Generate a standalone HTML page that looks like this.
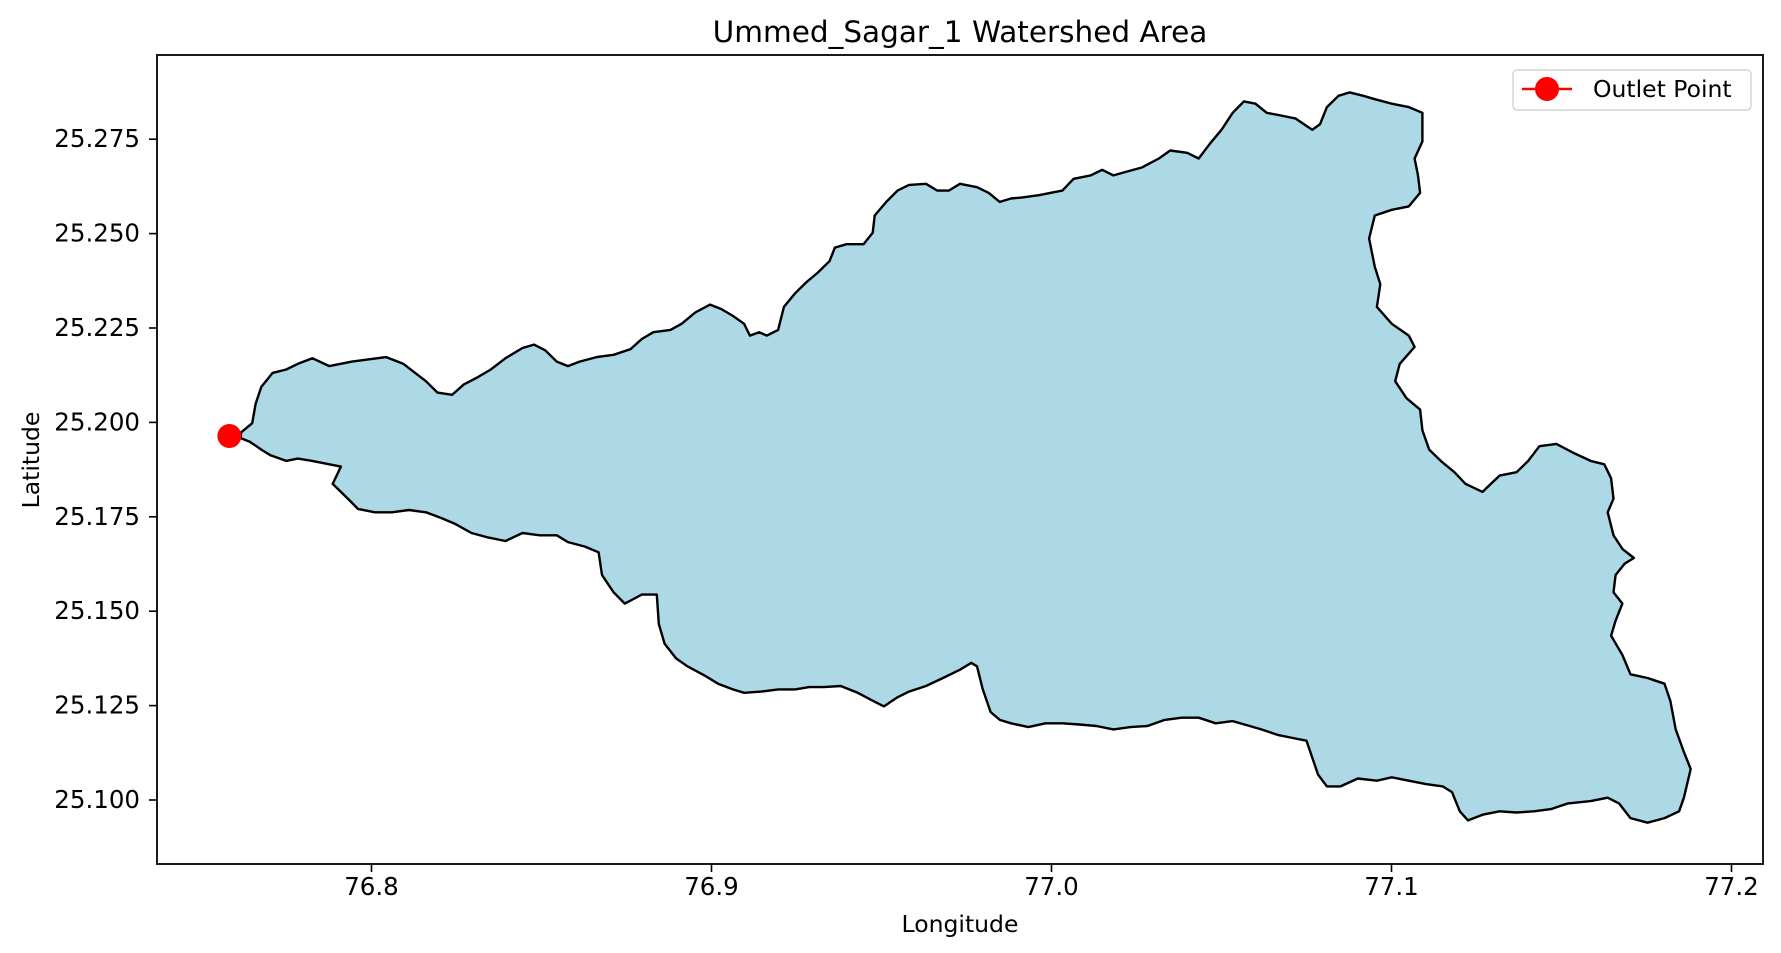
<!DOCTYPE html>
<html><head><meta charset="utf-8"><style>
html,body{margin:0;padding:0;background:#fff;}
svg{display:block;font-family:"DejaVu Sans","Liberation Sans",sans-serif;}
</style></head><body>
<svg id="chart" width="1781" height="953" viewBox="0 0 1781 953">
<text x="960" y="42" font-size="29.5" text-anchor="middle">Ummed_Sagar_1 Watershed Area</text>
<g id="plot"></g>
<rect x="157" y="55" width="1606" height="809" fill="none" stroke="#000" stroke-width="1.8"/>
<g id="xticks"></g><g id="yticks"></g>
<text x="960" y="932" font-size="23.5" text-anchor="middle">Longitude</text>
<text x="39" y="460" font-size="23.5" text-anchor="middle" transform="rotate(-90 39 460)">Latitude</text>
<g>
<rect x="1513" y="70" width="238" height="40" rx="4" fill="#fff" stroke="#ccc" stroke-width="1.2"/>
<line x1="1522" y1="89" x2="1572" y2="89" stroke="#f00" stroke-width="2.5"/>
<circle cx="1547" cy="89" r="12" fill="#f00"/>
<text x="1593" y="97" font-size="23.5">Outlet Point</text>
</g>
</svg>
<script>
const lons=[76.7616,76.7649,76.7659,76.7676,76.7709,76.7749,76.7783,76.7826,76.7876,76.7943,76.7993,76.8043,76.8094,76.8137,76.8160,76.8194,76.8237,76.8271,76.8311,76.8351,76.8394,76.8444,76.8478,76.8511,76.8545,76.8578,76.8612,76.8662,76.8712,76.8762,76.8795,76.8829,76.8879,76.8912,76.8952,76.8996,76.9029,76.9063,76.9096,76.9113,76.9140,76.9163,76.9196,76.9213,76.9246,76.9280,76.9313,76.9347,76.9363,76.9397,76.9447,76.9474,76.9480,76.9514,76.9547,76.9581,76.9631,76.9664,76.9698,76.9731,76.9781,76.9815,76.9848,76.9881,76.9915,76.9965,76.9998,77.0032,77.0065,77.0115,77.0149,77.0182,77.0216,77.0266,77.0316,77.0349,77.0399,77.0433,77.0466,77.0500,77.0533,77.0566,77.0600,77.0633,77.0667,77.0717,77.0767,77.0790,77.0810,77.0844,77.0877,77.0917,77.0951,77.1001,77.1051,77.1091,77.1091,77.1068,77.1078,77.1084,77.1051,77.1001,77.0951,77.0934,77.0951,77.0967,77.0957,77.1001,77.1051,77.1068,77.1024,77.1011,77.1044,77.1084,77.1091,77.1111,77.1145,77.1185,77.1218,77.1268,77.1292,77.1318,77.1368,77.1402,77.1435,77.1485,77.1536,77.1586,77.1626,77.1646,77.1653,77.1636,77.1653,77.1679,77.1713,77.1686,77.1659,77.1653,77.1679,77.1659,77.1646,77.1679,77.1703,77.1753,77.1803,77.1820,77.1836,77.1860,77.1880,77.1860,77.1846,77.1803,77.1753,77.1703,77.1669,77.1636,77.1586,77.1519,77.1469,77.1419,77.1368,77.1318,77.1268,77.1225,77.1201,77.1178,77.1151,77.1101,77.1051,77.1001,77.0957,77.0901,77.0850,77.0810,77.0784,77.0767,77.0750,77.0717,77.0667,77.0617,77.0583,77.0533,77.0483,77.0433,77.0383,77.0333,77.0282,77.0232,77.0182,77.0132,77.0082,77.0032,76.9982,76.9932,76.9881,76.9848,76.9821,76.9798,76.9781,76.9764,76.9731,76.9681,76.9631,76.9581,76.9547,76.9507,76.9474,76.9430,76.9380,76.9330,76.9287,76.9246,76.9196,76.9146,76.9096,76.9063,76.9019,76.8979,76.8929,76.8896,76.8862,76.8845,76.8839,76.8795,76.8745,76.8712,76.8678,76.8668,76.8628,76.8578,76.8545,76.8495,76.8444,76.8394,76.8344,76.8294,76.8244,76.8204,76.8160,76.8110,76.8060,76.8010,76.7960,76.7937,76.7910,76.7886,76.7910,76.7876,76.7826,76.7783,76.7749,76.7703,76.7676,76.7642,76.7616];
const lats=[25.1973,25.1998,25.2049,25.2094,25.2131,25.2140,25.2155,25.2170,25.2149,25.2161,25.2167,25.2173,25.2155,25.2125,25.2109,25.2079,25.2073,25.2100,25.2119,25.2140,25.2170,25.2197,25.2206,25.2191,25.2161,25.2149,25.2161,25.2173,25.2179,25.2194,25.2221,25.2239,25.2245,25.2261,25.2291,25.2312,25.2300,25.2282,25.2261,25.2230,25.2239,25.2230,25.2245,25.2306,25.2342,25.2372,25.2397,25.2427,25.2463,25.2472,25.2472,25.2502,25.2548,25.2584,25.2614,25.2629,25.2632,25.2614,25.2614,25.2632,25.2623,25.2608,25.2584,25.2593,25.2596,25.2602,25.2608,25.2614,25.2645,25.2654,25.2669,25.2654,25.2663,25.2675,25.2699,25.2720,25.2714,25.2699,25.2738,25.2775,25.2820,25.2850,25.2844,25.2820,25.2814,25.2805,25.2775,25.2790,25.2835,25.2865,25.2874,25.2865,25.2856,25.2844,25.2835,25.2820,25.2744,25.2699,25.2654,25.2608,25.2572,25.2563,25.2548,25.2487,25.2412,25.2366,25.2306,25.2261,25.2230,25.2200,25.2155,25.2109,25.2064,25.2034,25.1979,25.1928,25.1898,25.1868,25.1837,25.1816,25.1837,25.1859,25.1868,25.1898,25.1937,25.1943,25.1919,25.1898,25.1889,25.1852,25.1798,25.1762,25.1701,25.1665,25.1641,25.1626,25.1596,25.1550,25.1520,25.1475,25.1435,25.1384,25.1333,25.1323,25.1308,25.1263,25.1187,25.1127,25.1082,25.1006,25.0970,25.0952,25.0940,25.0952,25.0991,25.1006,25.0997,25.0991,25.0976,25.0970,25.0967,25.0970,25.0961,25.0946,25.0970,25.1021,25.1036,25.1042,25.1051,25.1060,25.1051,25.1057,25.1036,25.1036,25.1067,25.1112,25.1157,25.1163,25.1172,25.1187,25.1196,25.1209,25.1203,25.1218,25.1218,25.1212,25.1196,25.1193,25.1187,25.1196,25.1200,25.1203,25.1203,25.1193,25.1203,25.1212,25.1233,25.1293,25.1354,25.1363,25.1345,25.1323,25.1302,25.1287,25.1272,25.1248,25.1263,25.1284,25.1302,25.1299,25.1299,25.1293,25.1293,25.1287,25.1284,25.1293,25.1308,25.1330,25.1354,25.1375,25.1414,25.1466,25.1544,25.1544,25.1520,25.1550,25.1596,25.1656,25.1671,25.1683,25.1701,25.1701,25.1707,25.1686,25.1695,25.1707,25.1732,25.1747,25.1762,25.1768,25.1762,25.1762,25.1771,25.1792,25.1816,25.1837,25.1883,25.1889,25.1898,25.1904,25.1898,25.1913,25.1928,25.1949,25.1958];
const outletLon=[76.7582];
const outletLat=[25.1964];
const xTickVals=[76.8,76.9,77.0,77.1,77.2];
const xTickLabels=["76.8","76.9","77.0","77.1","77.2"];
const yTickVals=[25.100,25.125,25.150,25.175,25.200,25.225,25.250,25.275];
const yTickLabels=["25.100","25.125","25.150","25.175","25.200","25.225","25.250","25.275"];

const NS="http://www.w3.org/2000/svg";
function xs(v){return 371.5+(v-76.8)*3400;}
function ys(v){return 800-(v-25.1)*3776;}
const plot=document.getElementById('plot');
const poly=document.createElementNS(NS,'polygon');
poly.setAttribute('points',lons.map((l,i)=>xs(l).toFixed(1)+','+ys(lats[i]).toFixed(1)).join(' '));
poly.setAttribute('fill','#add8e6');poly.setAttribute('stroke','#000');poly.setAttribute('stroke-width','2.4');poly.setAttribute('stroke-linejoin','round');


plot.appendChild(poly);
outletLon.forEach((l,i)=>{
 const c=document.createElementNS(NS,'circle');
 c.setAttribute('cx',xs(l));c.setAttribute('cy',ys(outletLat[i]));c.setAttribute('r','12');c.setAttribute('fill','#f00');
 
 
 plot.appendChild(c);
});
const xt=document.getElementById('xticks');
xTickVals.forEach((v,i)=>{
 const x=xs(v);
 const ln=document.createElementNS(NS,'line');
 ln.setAttribute('x1',x);ln.setAttribute('x2',x);ln.setAttribute('y1',864);ln.setAttribute('y2',872);ln.setAttribute('stroke','#000');ln.setAttribute('stroke-width','1.6');
 
 
 xt.appendChild(ln);
 const t=document.createElementNS(NS,'text');
 t.setAttribute('x',x);t.setAttribute('y',895);t.setAttribute('font-size','24.5');t.setAttribute('text-anchor','middle');
 t.textContent=xTickLabels[i];
 
 
 xt.appendChild(t);
});
const yt=document.getElementById('yticks');
yTickVals.forEach((v,i)=>{
 const y=ys(v);
 const ln=document.createElementNS(NS,'line');
 ln.setAttribute('x1',149);ln.setAttribute('x2',157);ln.setAttribute('y1',y);ln.setAttribute('y2',y);ln.setAttribute('stroke','#000');ln.setAttribute('stroke-width','1.6');
 
 
 yt.appendChild(ln);
 const t=document.createElementNS(NS,'text');
 t.setAttribute('x',140);t.setAttribute('y',y+8);t.setAttribute('font-size','24.5');t.setAttribute('text-anchor','end');
 t.textContent=yTickLabels[i];
 
 
 yt.appendChild(t);
});
</script>
</body></html>
